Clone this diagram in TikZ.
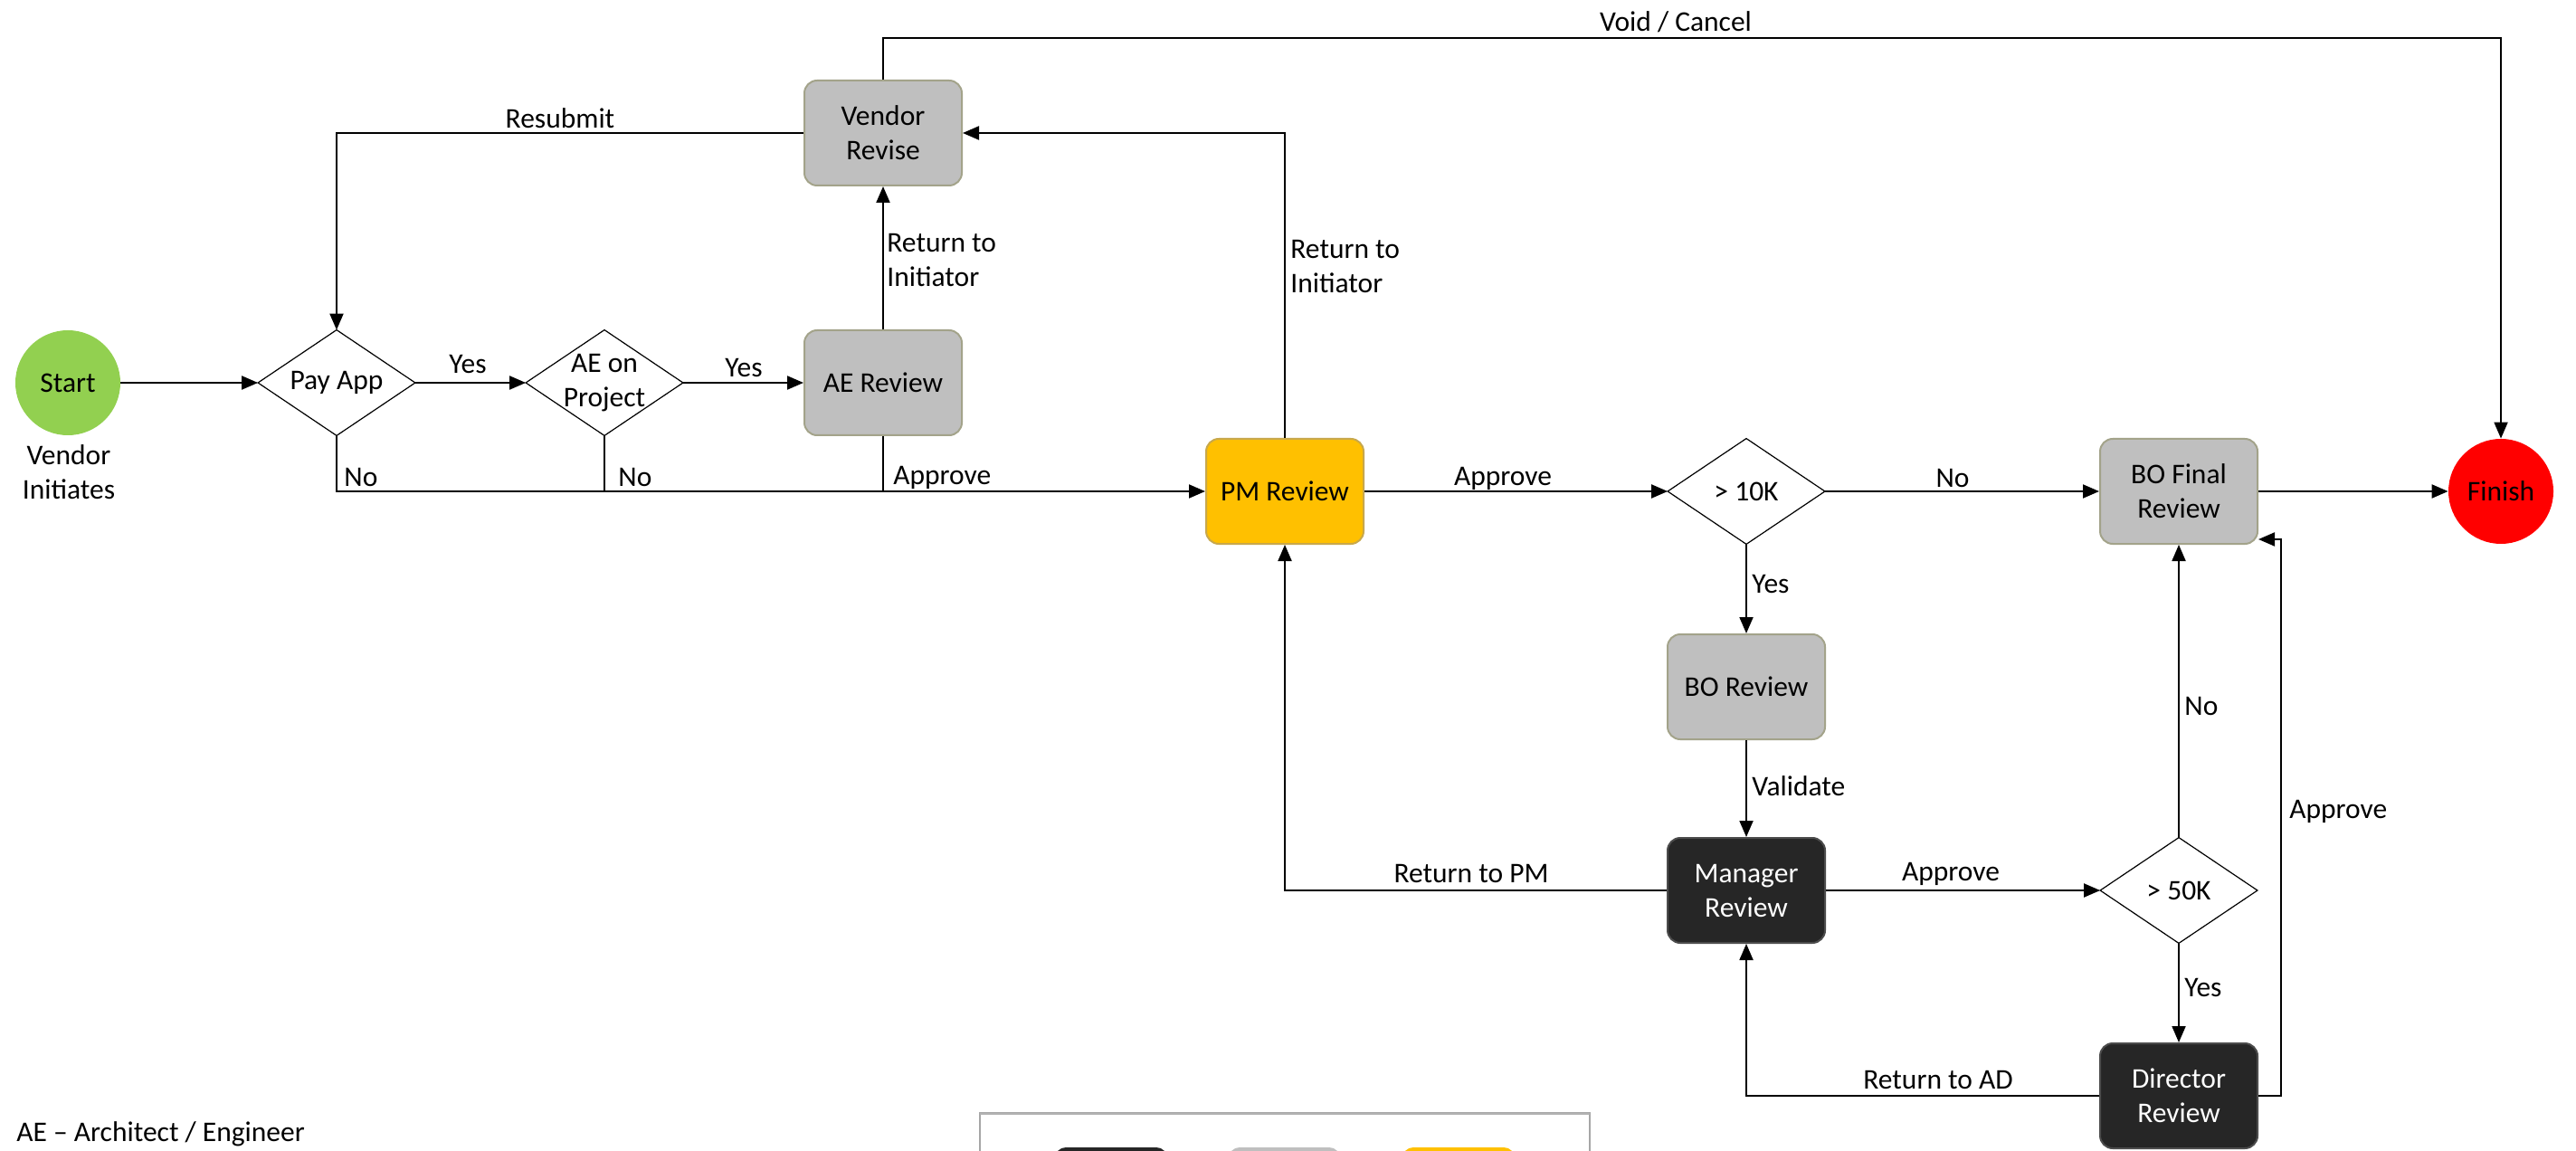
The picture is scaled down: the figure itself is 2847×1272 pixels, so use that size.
\documentclass[tikz,border=0pt]{standalone}
\usepackage{fontspec}
\setmainfont{Carlito}
\usetikzlibrary{arrows.meta}
\definecolor{boxgrey}{HTML}{BFBFBF}
\definecolor{greyline}{HTML}{A3A38A}
\definecolor{pmyellow}{HTML}{FFC000}
\definecolor{yline}{HTML}{C8A84B}
\definecolor{darkfill}{HTML}{262626}
\definecolor{startgreen}{HTML}{92D050}
\definecolor{finishred}{HTML}{FF0000}
\begin{document}
\begin{tikzpicture}[x=0.5pt,y=-0.5pt,
  every node/.style={font=\fontsize{15.75pt}{19pt}\selectfont},
  proc/.style={rectangle, rounded corners=7pt, minimum width=87pt, minimum height=58pt, inner sep=2pt, align=center, line width=1pt},
  greybox/.style={proc, fill=boxgrey, draw=greyline},
  yellowbox/.style={proc, fill=pmyellow, draw=yline},
  darkbox/.style={proc, fill=darkfill, draw=black!70, text=white},
  term/.style={circle, minimum size=58pt, inner sep=0pt},
  decision/.style={rectangle, minimum width=86.5pt, minimum height=58pt, inner sep=0pt, align=center},
  conn/.style={line width=1pt, -{Triangle[length=9pt,width=7.5pt]}},
  plainline/.style={line width=1pt},
  lbl/.style={inner sep=1pt, align=left},
]
\useasboundingbox (0,0) rectangle (2847,1272);

% nodes
\node[term, fill=startgreen] (start) at (75,423) {Start};
\node[align=center] (vinit) at (76,522) {Vendor\\Initiates};
\node[decision] (payapp) at (372,423) {\raisebox{-2pt}{Pay App}};
\node[decision] (aeon) at (668,423) {AE on\\Project};
\node[greybox] (aerev) at (976,423) {AE Review};
\node[greybox] (vrev) at (976,147) {Vendor\\Revise};
\node[yellowbox] (pmrev) at (1420,543) {PM Review};
\node[decision] (g10k) at (1930,543) {> 10K};
\node[greybox] (bofin) at (2408,543) {BO Final\\Review};
\node[term, fill=finishred] (finish) at (2764,543) {Finish};
\node[greybox] (borev) at (1930,759) {BO Review};
\node[darkbox] (mgr) at (1930,984) {Manager\\Review};
\node[decision] (g50k) at (2408,984) {> 50K};
\node[darkbox] (dir) at (2408,1211) {Director\\Review};

\foreach \d in {payapp,aeon,g10k,g50k}
  \draw[line width=0.6pt] (\d.north) -- (\d.east) -- (\d.south) -- (\d.west) -- cycle;

% coordinates
\coordinate (voidc) at (976,42);
\coordinate (apx) at (2521,1211);
\coordinate (apy) at (2521,596);

% connectors
\draw[conn] (start) -- (payapp);
\draw[conn] (payapp.east) -- (aeon.west);
\draw[conn] (aeon.east) -- (aerev.west);
\draw[conn] (payapp.south) |- (pmrev.west);
\draw[plainline] (aeon.south) -- (aeon.south |- pmrev.west);
\draw[plainline] (aerev.south) -- (aerev.south |- pmrev.west);
\draw[conn] (aerev) -- (vrev);
\draw[conn] (pmrev.north) |- (vrev.east);
\draw[conn] (vrev.west) -| (payapp.north);
\draw[conn] (vrev.north) -- (voidc) -| (finish.north);
\draw[conn] (pmrev) -- (g10k);
\draw[conn] (g10k) -- (bofin);
\draw[conn] (bofin) -- (finish);
\draw[conn] (g10k.south) -- (borev.north);
\draw[conn] (borev) -- (mgr);
\draw[conn] (mgr.west) -| (pmrev.south);
\draw[conn] (mgr) -- (g50k);
\draw[conn] (g50k.north) -- (bofin.south);
\draw[conn] (g50k.south) -- (dir.north);
\draw[conn] (dir.west) -| (mgr.south);
\draw[conn] (dir.east) -- (apx) -- (apy) -- (bofin.east |- apy);

% labels
\node[lbl] (lyes1) at (517,403) {Yes};
\node[lbl] (lyes2) at (822,407) {Yes};
\node[lbl, anchor=west] (lno1) at (378,528) {No};
\node[lbl, anchor=west] (lno2) at (681,528) {No};
\node[lbl, anchor=west] (lapp1) at (985,528) {Approve};
\node[lbl, anchor=west] (lrti1) at (978,288) {Return to\\Initiator};
\node[lbl, anchor=west] (lrti2) at (1424,295) {Return to\\Initiator};
\node[lbl] (lresub) at (619,131) {Resubmit};
\node[lbl] (lvoid) at (1852,24) {Void / Cancel};
\node[lbl] (lapp2) at (1661,529) {Approve};
\node[lbl] (lno3) at (2158,529) {No};
\node[lbl, anchor=west] (lyes3) at (1934,646) {Yes};
\node[lbl, anchor=west] (lval) at (1934,869) {Validate};
\node[lbl] (lrpm) at (1626,966) {Return to PM};
\node[lbl] (lapp3) at (2156,966) {Approve};
\node[lbl, anchor=west] (lno4) at (2412,780) {No};
\node[lbl, anchor=west] (lyes4) at (2412,1092) {Yes};
\node[lbl] (lrad) at (2142,1194) {Return to AD};
\node[lbl, anchor=west] (lapp4) at (2528,897) {Approve};
\node[lbl, anchor=west] (lae) at (16,1253) {AE – Architect / Engineer};

% legend (cut off at bottom)
\begin{scope}
\clip (0,0) rectangle (2847,1272);
\draw[draw=gray!70, line width=0.8pt] (1083,1400) -- (1083,1230) -- (1757,1230) -- (1757,1400);
\draw[draw=gray!60, line width=1.2pt] (1083,1231) -- (1757,1231);
\fill[darkfill, rounded corners=6pt] (1166,1268) rectangle (1290,1340);
\fill[boxgrey, rounded corners=6pt] (1358,1268) rectangle (1481,1340);
\fill[pmyellow, rounded corners=6pt] (1550,1268) rectangle (1674,1340);
\end{scope}
\end{tikzpicture}
\end{document}
